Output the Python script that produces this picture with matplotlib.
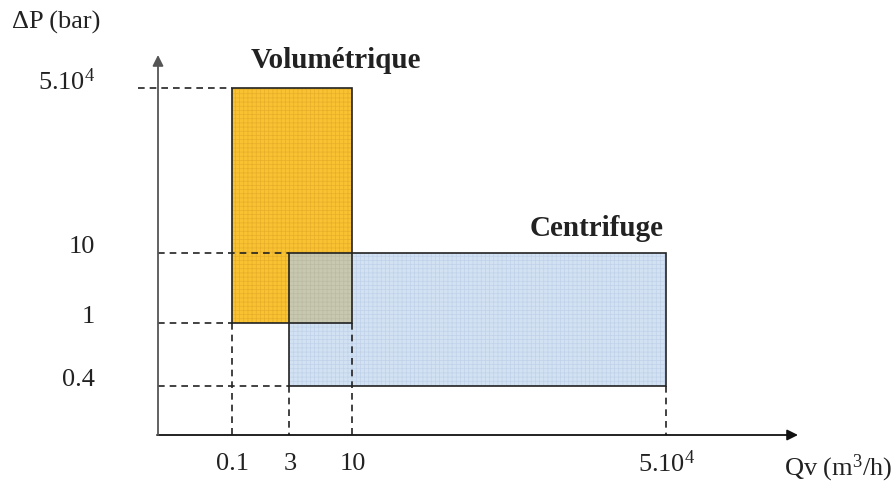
import numpy as np
import matplotlib.pyplot as plt
from matplotlib.patches import Rectangle

plt.rcParams['font.family'] = ['Liberation Serif', 'DejaVu Serif']
plt.rcParams['mathtext.fontset'] = 'custom'
plt.rcParams['mathtext.rm'] = 'Liberation Serif'
plt.rcParams['mathtext.it'] = 'Liberation Serif:italic'
plt.rcParams['mathtext.bf'] = 'Liberation Serif:bold'
plt.rcParams['hatch.linewidth'] = 0.5

# values shown on the (schematic) axes
qv_ticks = [0.1, 3, 10, 5e4]
qv_labels = ['0.1', '3', '10', '5.10$^{4}$']
dp_ticks = [0.4, 1, 10, 5e4]
dp_labels = ['0.4', '1', '10', '5.10$^{4}$']

# operating ranges: (Qv min, Qv max, dP min, dP max)
pumps = ['Volumétrique', 'Centrifuge']
qv_min = [0.1, 3]
qv_max = [10, 5e4]
dp_min = [1, 0.4]
dp_max = [5e4, 10]

# schematic layout: where each tick sits on the canvas (pixels)
X_PIX = [232, 289, 352, 666]
Y_PIX = [386, 323, 253, 88]
X0, Y0 = 158, 435

fills = ['#F8C232', '#D3E2F3']
hatches = ['#E8AE2A', '#C0D2E9']
overlap_col = '#C8C7B0'


def px(q):
    return np.interp(q, qv_ticks, X_PIX)


def py(p):
    return np.interp(p, dp_ticks, Y_PIX)


fig = plt.figure(figsize=(8.95, 4.9), dpi=100)
ax = fig.add_axes([0, 0, 1, 1])
ax.set_xlim(0, 895)
ax.set_ylim(490, 0)
ax.axis('off')

# rectangles
for i in range(len(pumps)):
    x1, x2 = px(qv_min[i]), px(qv_max[i])
    y1, y2 = py(dp_max[i]), py(dp_min[i])
    ax.add_patch(Rectangle((x1, y1), x2 - x1, y2 - y1, facecolor=fills[i],
                           edgecolor=hatches[i], lw=0, hatch='++++', zorder=1))
    ax.add_patch(Rectangle((x1, y1), x2 - x1, y2 - y1, fill=False,
                           edgecolor='#222222', lw=1.2, zorder=4))

# overlap zone
ox1 = px(max(qv_min)); ox2 = px(min(qv_max))
oy1 = py(min(dp_max)); oy2 = py(max(dp_min))
ax.add_patch(Rectangle((ox1, oy1), ox2 - ox1, oy2 - oy1, facecolor=overlap_col,
                       edgecolor='#BBBAA3', lw=0, hatch='++++', zorder=2))

# dashed guides
for v in dp_ticks:
    lefts = [qv_min[i] for i in range(len(pumps)) if v in (dp_min[i], dp_max[i])]
    start = 138 if v == max(dp_ticks) else X0
    ax.plot([start, px(min(lefts))], [py(v), py(v)], ls=(0, (4, 3)),
            color='#222222', lw=1.2, zorder=3)
for v in qv_ticks:
    bots = [dp_min[i] for i in range(len(pumps)) if v in (qv_min[i], qv_max[i])]
    ax.plot([px(v), px(v)], [py(min(bots)), Y0], ls=(0, (4, 3)),
            color='#222222', lw=1.2, zorder=3)

# axes with arrows
ax.annotate('', xy=(798, Y0), xytext=(X0 - 1, Y0),
            arrowprops=dict(arrowstyle='-|>', color='#111111', lw=1.3,
                            mutation_scale=16, shrinkA=0, shrinkB=0), zorder=5)
ax.annotate('', xy=(X0, 55), xytext=(X0, Y0),
            arrowprops=dict(arrowstyle='-|>', color='#555555', lw=1.3,
                            mutation_scale=16, shrinkA=0, shrinkB=0), zorder=5)

# tick labels
for v, lab in zip(qv_ticks, qv_labels):
    ax.text(px(v) + 1, 464, lab, ha='center', va='center', fontsize=19, color='#222222')
for v, lab in zip(dp_ticks, dp_labels):
    ax.text(95, py(v) - 6, lab, ha='right', va='center', fontsize=19, color='#222222')

ax.text(12, 22, 'ΔP (bar)', ha='left', va='center', fontsize=19, color='#222222')
ax.text(892, 468, 'Qv (m$^{3}$/h)', ha='right', va='center', fontsize=19, color='#222222')
ax.text(336, 60, pumps[0], ha='center', va='center', fontsize=21,
        fontweight='bold', color='#222222')
ax.text(597, 228, pumps[1], ha='center', va='center', fontsize=21,
        fontweight='bold', color='#222222')

fig.savefig('out.png', dpi=100)
